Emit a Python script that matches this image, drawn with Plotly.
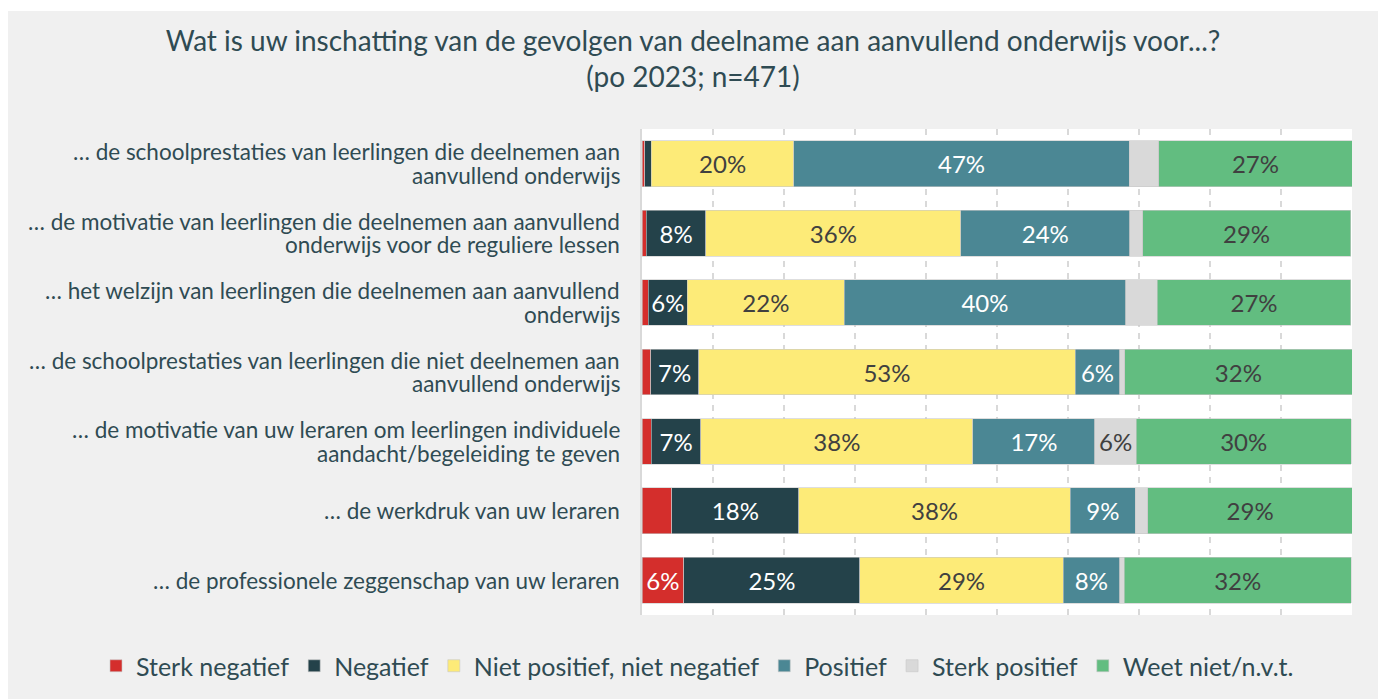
import plotly.graph_objects as go

categories = [
    "… de schoolprestaties van leerlingen die deelnemen aan<br>aanvullend onderwijs",
    "… de motivatie van leerlingen die deelnemen aan aanvullend<br>onderwijs voor de reguliere lessen",
    "… het welzijn van leerlingen die deelnemen aan aanvullend<br>onderwijs",
    "… de schoolprestaties van leerlingen die niet deelnemen aan<br>aanvullend onderwijs",
    "… de motivatie van uw leraren om leerlingen individuele<br>aandacht/begeleiding te geven",
    "… de werkdruk van uw leraren",
    "… de professionele zeggenschap van uw leraren",
]

series_names = ["Sterk negatief", "Negatief", "Niet positief, niet negatief",
                "Positief", "Sterk positief", "Weet niet/n.v.t."]

sterk_negatief = [0.4, 0.6, 0.9, 1.2, 1.3, 4.2, 5.9]
negatief = [0.9, 8.4, 5.5, 6.8, 7.0, 17.9, 24.8]
niet_pos_niet_neg = [20.1, 35.9, 22.1, 53.0, 38.3, 38.2, 28.6]
positief = [47.2, 23.8, 39.6, 6.3, 17.2, 9.2, 8.0]
sterk_positief = [4.2, 1.8, 4.5, 0.7, 5.8, 1.7, 0.6]
weet_niet = [27.2, 29.3, 27.2, 32.0, 30.3, 28.9, 32.0]

series_values = [sterk_negatief, negatief, niet_pos_niet_neg, positief, sterk_positief, weet_niet]
colors = ["#d42e2c", "#24424a", "#fdeb78", "#4b8794", "#d9d9d9", "#62bd80"]
text_colors = ["#ffffff", "#ffffff", "#404040", "#ffffff", "#404040", "#404040"]

FONT = "Lato"
TXT = "#2f4b53"
W, H = 1386, 699
ML, MR, MT, MB = 634, 42, 121, 92
PW, PH = W - ML - MR, H - MT - MB

fig = go.Figure()
for name, vals, col, tcol in zip(series_names, series_values, colors, text_colors):
    labels = [f"{round(v)}%" if v >= 5 else "" for v in vals]
    fig.add_trace(go.Bar(
        y=categories, x=vals, name=name, orientation="h",
        marker=dict(color=col, line=dict(color="#c8c8c8", width=0.6)),
        text=labels, textposition="inside", insidetextanchor="middle",
        textangle=0, constraintext="none",
        textfont=dict(family=FONT, size=24, color=tcol),
        hoverinfo="skip",
    ))

# category labels with tight line spacing
for cat in categories:
    lines = cat.split("<br>")
    n = len(lines)
    for i, ln in enumerate(lines):
        offset = (i - (n - 1) / 2) * 23.5
        fig.add_annotation(x=0, xref="paper", y=cat, yref="y", text=ln,
                           showarrow=False, xanchor="right", yanchor="middle",
                           xshift=-20, yshift=-offset,
                           font=dict(family=FONT, size=22.5, color=TXT))

fig.add_shape(type="rect", xref="paper", yref="paper",
              x0=(-1 - ML) / PW, x1=(1374 - ML) / PW, y0=-MB / PH - 0.05, y1=(H - 3 - MB) / PH,
              fillcolor="#f0f0f0", line=dict(width=0), layer="below")
fig.add_shape(type="rect", xref="paper", yref="paper",
              x0=0, x1=1, y0=0, y1=1,
              fillcolor="#ffffff", line=dict(width=0), layer="below")

fig.update_layout(
    width=W, height=H,
    barmode="stack", bargap=0.34,
    paper_bgcolor="#ffffff", plot_bgcolor="rgba(0,0,0,0)",
    margin=dict(l=ML, r=MR, t=MT, b=MB, autoexpand=False),
    font=dict(family=FONT, color=TXT),
    title=dict(
        text="Wat is uw inschatting van de gevolgen van deelname aan aanvullend onderwijs voor...?<br>(po 2023; n=471)",
        x=(693 - 8) / W, xref="container", xanchor="center",
        y=1 - 43 / H, yref="container", yanchor="top",
        font=dict(family=FONT, size=28, color=TXT),
    ),
    xaxis=dict(range=[0, 100], dtick=10, showticklabels=False, showgrid=True,
               gridcolor="#d9d9d9", gridwidth=1.5, griddash="6px,6px",
               zeroline=False, fixedrange=True),
    yaxis=dict(autorange="reversed", showline=True, linecolor="#d9d9d9", linewidth=2,
               ticks="", showticklabels=False, fixedrange=True),
    legend=dict(orientation="h", x=(88 - ML) / PW, xref="paper", xanchor="left",
                y=-(658 - (H - MB)) / PH, yref="paper", yanchor="middle",
                font=dict(family=FONT, size=25, color=TXT),
                bgcolor="rgba(0,0,0,0)", traceorder="normal"),
    showlegend=True,
)

fig.write_html("out.html")
